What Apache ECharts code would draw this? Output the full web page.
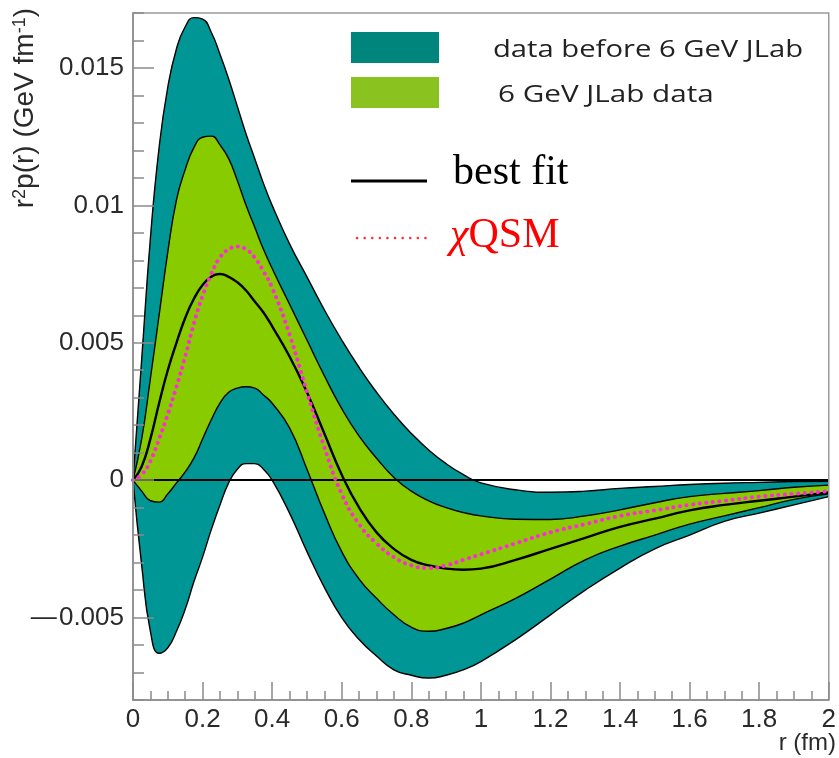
<!DOCTYPE html>
<html>
<head>
<meta charset="utf-8">
<script src="https://cdn.jsdelivr.net/npm/echarts@6/dist/echarts.min.js"></script>
<style>
  html, body { margin: 0; padding: 0; background: #fff; }
  #main { width: 839px; height: 758px; }
</style>
</head>
<body>
<div id="main"></div>
<script>
// r (fm) sample points shared by every curve
const r = [0, 0.025, 0.05, 0.075, 0.1, 0.125, 0.15, 0.175, 0.2, 0.225, 0.25, 0.275, 0.3, 0.325, 0.35, 0.375, 0.4,
  0.45, 0.5, 0.55, 0.6, 0.65, 0.7, 0.75, 0.8, 0.85, 0.9, 0.95, 1.0,
  1.1, 1.2, 1.3, 1.4, 1.5, 1.6, 1.7, 1.8, 1.9, 2.0];

// data before 6 GeV JLab (outer band)
const outerHigh = [0, 0.0044, 0.0088, 0.0121, 0.0143, 0.0157, 0.0165, 0.01683, 0.01678, 0.0163, 0.0155, 0.0146, 0.0136, 0.0126, 0.0117, 0.0108, 0.0100,
  0.0086, 0.0074, 0.0062, 0.0051, 0.0041, 0.0032, 0.0024, 0.0017, 0.0011, 0.0006, 0.0002, -0.0001,
  -0.00035, -0.00044, -0.0004, -0.0003, -0.00023, -0.00016, -0.00011, -0.00008, -0.00005, -0.00004];
const outerLow = [0, -0.0031, -0.0055, -0.0063, -0.0061, -0.0055, -0.0047, -0.0037, -0.0028, -0.0018, -0.0009, -0.0001, 0.0004, 0.0006, 0.0006, 0.0004, 0.0000,
  -0.0012, -0.0026, -0.0039, -0.0050, -0.0058, -0.0064, -0.0069, -0.0071, -0.0072, -0.0071, -0.0069, -0.0066,
  -0.0058, -0.0049, -0.0040, -0.0032, -0.0025, -0.0020, -0.0015, -0.0012, -0.0009, -0.0006];

// 6 GeV JLab data (inner band)
const innerHigh = [0, 0.0015, 0.0037, 0.0060, 0.0083, 0.0102, 0.0113, 0.0121, 0.01248, 0.01252, 0.0122, 0.0117, 0.0109, 0.0100, 0.0092, 0.0084, 0.0077,
  0.0064, 0.0051, 0.0038, 0.0026, 0.0016, 0.0008, 0.0001, -0.0004, -0.00075, -0.001, -0.00118, -0.0013,
  -0.00142, -0.00143, -0.0013, -0.00108, -0.00082, -0.0006, -0.00048, -0.00038, -0.00026, -0.00018];
const innerLow = [0, -0.0004, -0.00075, -0.0008, -0.0005, -0.0001, 0.0003, 0.0008, 0.0015, 0.0022, 0.0028, 0.0032, 0.00335, 0.0034, 0.00335, 0.0031, 0.0028,
  0.0019, 0.0004, -0.0012, -0.0026, -0.0036, -0.0043, -0.0049, -0.00535, -0.0055, -0.0054, -0.0052, -0.0049,
  -0.0043, -0.0036, -0.0029, -0.0024, -0.0020, -0.0016, -0.0013, -0.0010, -0.0007, -0.0005];

const bestFit = [0, 0.0005, 0.0015, 0.0028, 0.0040, 0.0050, 0.0059, 0.0066, 0.0071, 0.0074, 0.0075, 0.0074, 0.0072, 0.0069, 0.0065, 0.0061, 0.0056,
  0.0045, 0.0032, 0.0017, 0.0002, -0.0010, -0.0019, -0.0025, -0.0029, -0.0031, -0.00322, -0.00326, -0.00322,
  -0.0029, -0.0025, -0.0021, -0.0017, -0.0014, -0.0011, -0.0009, -0.00075, -0.0006, -0.00045];
const qsm = [0, 0.0002, 0.0007, 0.0015, 0.0024, 0.0034, 0.0045, 0.0057, 0.0067, 0.0075, 0.0081, 0.0084, 0.0085, 0.0084, 0.0081, 0.0076, 0.0070,
  0.0053, 0.0032, 0.0012, -0.0005, -0.0016, -0.0023, -0.0028, -0.0031, -0.0032, -0.0031, -0.0029, -0.0027,
  -0.0023, -0.0019, -0.0016, -0.0013, -0.0011, -0.0009, -0.00075, -0.0006, -0.0005, -0.0004];

const yTickValues = [-0.005, 0, 0.005, 0.01, 0.015];
const yTickLabels = ['\u2014\u200a0.005', '0', '0.005', '0.01', '0.015'];

const teal = '#009696';
const green = '#88cc00';

const pairs = (ys) => r.map((x, i) => [x, ys[i]]);

const edge = { color: '#000', width: 1.4 };
const common = { type: 'line', smooth: 0.5, symbol: 'none', silent: true };

// each band edge is filled down to the axis minimum; later layers paint over earlier ones
function layer(name, ys, fill, z) {
  return Object.assign({}, common, { name: name, data: pairs(ys), lineStyle: edge,
    areaStyle: { color: fill, opacity: 1, origin: 'start' }, z: z });
}

let myChart = echarts.init(document.getElementById('main'));
myChart.setOption({
  backgroundColor: '#fff',
  animation: false,
  grid: { left: 133, right: 6, top: 13, bottom: 58, show: true, borderColor: '#9a9a9a', borderWidth: 1.5, z: 10 },
  xAxis: {
    type: 'value', min: 0, max: 2, interval: 0.2, z: 10,
    axisLine: { onZero: false, lineStyle: { color: '#8a8a8a', width: 1.5 } },
    axisTick: { inside: true, length: 18, lineStyle: { color: '#8a8a8a', width: 1.5 } },
    minorTick: { show: true, splitNumber: 4, length: 9, lineStyle: { color: '#8a8a8a', width: 1.5 } },
    splitLine: { show: false },
    axisLabel: { fontFamily: 'Liberation Sans', fontSize: 26, color: '#2a2a2a', margin: 7 }
  },
  yAxis: [{
    type: 'value', min: -0.008, max: 0.017, interval: 0.001, z: 10,
    axisLine: { lineStyle: { color: '#8a8a8a', width: 1.5 } },
    axisTick: { inside: true, length: 11, lineStyle: { color: '#8a8a8a', width: 1.5 } },
    splitLine: { show: false },
    axisLabel: {
      fontFamily: 'Liberation Sans', fontSize: 26, color: '#2a2a2a', margin: 9,
      formatter: function (v) {
        for (let i = 0; i < yTickValues.length; i++) {
          if (Math.abs(v - yTickValues[i]) < 1e-9) return yTickLabels[i];
        }
        return '';
      }
    }
  }, {
    type: 'value', min: -0.008, max: 0.017, position: 'left', z: 10,
    axisLine: { show: false },
    axisTick: { inside: true, length: 21, customValues: yTickValues, lineStyle: { color: '#8a8a8a', width: 1.5 } },
    axisLabel: { show: false },
    splitLine: { show: false }
  }],
  series: [
    layer('data before 6 GeV JLab', outerHigh, teal, 1),
    layer('6 GeV JLab data', innerHigh, green, 2),
    layer('innerLow', innerLow, teal, 3),
    layer('outerLow', outerLow, '#fff', 4),
    Object.assign({}, common, { name: 'best fit', data: pairs(bestFit), lineStyle: { color: '#000', width: 2.4 }, z: 5,
      markLine: { silent: true, symbol: 'none', label: { show: false },
        lineStyle: { color: '#000', width: 2, type: 'solid' }, data: [{ yAxis: 0 }] } }),
    Object.assign({}, common, { name: 'χQSM', data: pairs(qsm),
      lineStyle: { color: '#ff2bd6', width: 4, type: [0.1, 6.5], cap: 'round' }, z: 6 })
  ],
  graphic: [
    { type: 'rect', z: 100, shape: { x: 351, y: 32, width: 88, height: 31 }, style: { fill: '#00857c' } },
    { type: 'rect', z: 100, shape: { x: 351, y: 77, width: 88, height: 31 }, style: { fill: '#8ac21f' } },
    { type: 'text', z: 100, x: 493, y: 50, scaleX: 1.27, style: { text: 'data before 6 GeV JLab', fontFamily: 'Open Sans', fontSize: 23,
      fill: '#222', textVerticalAlign: 'middle' } },
    { type: 'text', z: 100, x: 498, y: 95, scaleX: 1.29, style: { text: '6 GeV JLab data', fontFamily: 'Open Sans', fontSize: 23,
      fill: '#222', textVerticalAlign: 'middle' } },
    { type: 'line', z: 100, shape: { x1: 351, y1: 181, x2: 427, y2: 181 }, style: { stroke: '#000', lineWidth: 3 } },
    { type: 'text', z: 100, x: 453, y: 173, style: { text: 'best fit', fontFamily: 'Liberation Serif', fontSize: 42,
      fill: '#000', textVerticalAlign: 'middle' } },
    { type: 'line', z: 100, shape: { x1: 357, y1: 238, x2: 430, y2: 238 },
      style: { stroke: '#ff3030', lineWidth: 2.5, lineDash: [0.1, 7.5], lineCap: 'round' } },
    { type: 'text', z: 100, x: 450, y: 236, style: { text: '{i|χ}QSM', fontFamily: 'Liberation Serif', fontSize: 42,
      fill: '#ff0000', textVerticalAlign: 'middle',
      rich: { i: { fontFamily: 'Liberation Serif', fontStyle: 'italic', fontSize: 42, fill: '#ff0000' } } } },
    { type: 'text', z: 100, x: 25, y: 8, rotation: Math.PI / 2, style: {
      text: '{a|r}{s|2}{a|p(r) (GeV fm}{s|-1}{a|)}', textAlign: 'right', textVerticalAlign: 'middle',
      rich: {
        a: { fontFamily: 'Liberation Sans', fontSize: 28, fill: '#2a2a2a' },
        s: { fontFamily: 'Liberation Sans', fontSize: 18, fill: '#2a2a2a', verticalAlign: 'top' }
      } } },
    { type: 'text', z: 100, right: 3, top: 731, style: { text: 'r (fm)', fontFamily: 'Liberation Sans', fontSize: 24, fill: '#2a2a2a' } }
  ]
});
</script>
</body>
</html>
